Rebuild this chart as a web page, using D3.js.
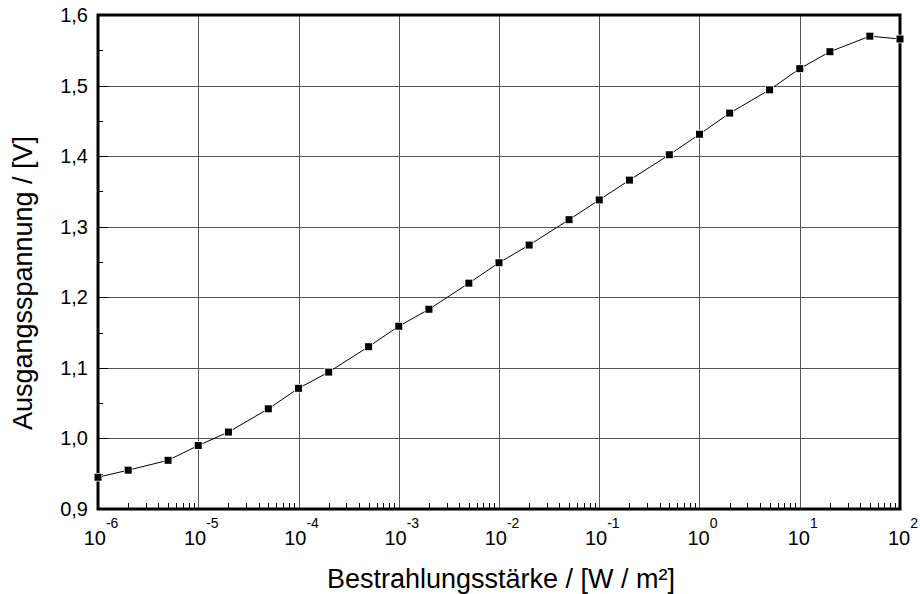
<!DOCTYPE html>
<html><head><meta charset="utf-8">
<script src="https://cdn.jsdelivr.net/npm/d3@7"></script>
<style>body{margin:0;background:#fff}</style>
</head><body>
<svg id="c" width="920" height="594"></svg>
<script>
const irradiance = [1e-6,2e-6,5e-6,1e-5,2e-5,5e-5,1e-4,2e-4,5e-4,1e-3,2e-3,5e-3,1e-2,2e-2,5e-2,0.1,0.2,0.5,1,2,5,10,20,50,100];
const voltage = [0.945,0.955,0.969,0.990,1.009,1.042,1.071,1.094,1.130,1.159,1.183,1.220,1.249,1.274,1.310,1.338,1.366,1.402,1.431,1.461,1.494,1.524,1.548,1.570,1.566];
const xExponents = [-6,-5,-4,-3,-2,-1,0,1,2];
const yTicks = [0.9,1.0,1.1,1.2,1.3,1.4,1.5,1.6];
const xTitle = "Bestrahlungsstärke / [W / m²]";
const yTitle = "Ausgangsspannung / [V]";

const svg = d3.select("#c");
const L=98, R=900, T=15, B=509;
const x = d3.scaleLog().domain([1e-6,1e2]).range([L,R]);
const y = d3.scaleLinear().domain([0.9,1.6]).range([B,T]);
const font = "Liberation Sans, Arial, sans-serif";

const g = svg.append("g");
// grid
g.selectAll(".vg").data(xExponents.slice(1,-1)).join("line")
  .attr("x1",d=>Math.round(x(Math.pow(10,d)))+0.5).attr("x2",d=>Math.round(x(Math.pow(10,d)))+0.5)
  .attr("y1",T).attr("y2",B).attr("stroke","#555").attr("stroke-width",1);
g.selectAll(".hg").data(yTicks.slice(1,-1)).join("line")
  .attr("y1",d=>Math.round(y(d))+0.5).attr("y2",d=>Math.round(y(d))+0.5)
  .attr("x1",L).attr("x2",R).attr("stroke","#555").attr("stroke-width",1);

// minor ticks x
const minors=[];
xExponents.slice(0,-1).forEach(e=>{for(let k=2;k<10;k++)minors.push(k*Math.pow(10,e));});
g.selectAll(".mx").data(minors).join("line")
  .attr("x1",d=>Math.round(x(d))+0.5).attr("x2",d=>Math.round(x(d))+0.5)
  .attr("y1",B).attr("y2",B-6).attr("stroke","#000").attr("stroke-width",1);
// major ticks y (inward)
g.selectAll(".my").data(yTicks).join("line")
  .attr("y1",d=>Math.round(y(d))+0.5).attr("y2",d=>Math.round(y(d))+0.5)
  .attr("x1",L).attr("x2",L+10).attr("stroke","#000").attr("stroke-width",1);
// minor y
g.selectAll(".mny").data(d3.range(0.95,1.6,0.1)).join("line")
  .attr("y1",d=>Math.round(y(d))+0.5).attr("y2",d=>Math.round(y(d))+0.5)
  .attr("x1",L).attr("x2",L+5).attr("stroke","#000").attr("stroke-width",1);

// frame
g.append("rect").attr("x",L).attr("y",T).attr("width",R-L).attr("height",B-T)
  .attr("fill","none").attr("stroke","#000").attr("stroke-width",3);

// line + markers
g.append("path").datum(irradiance.map((v,i)=>[v,voltage[i]]))
  .attr("d",d3.line().x(d=>x(d[0])).y(d=>y(d[1])))
  .attr("fill","none").attr("stroke","#000").attr("stroke-width",1);
g.selectAll(".pt").data(irradiance.map((v,i)=>[v,voltage[i]])).join("rect")
  .attr("x",d=>x(d[0])-3.5).attr("y",d=>y(d[1])-3.5).attr("width",7).attr("height",7)
  .attr("fill","#000").attr("stroke","#fff").attr("stroke-width",1.5).attr("paint-order","stroke");

// y labels
g.selectAll(".yl").data(yTicks).join("text")
  .attr("x",L-10).attr("y",d=>y(d)+7).attr("text-anchor","end")
  .attr("font-family",font).attr("font-size",20)
  .text(d=>d3.format(".1f")(d).replace(".",","));

// x labels
const xl = g.selectAll(".xl").data(xExponents).join("text")
  .attr("x",d=>x(Math.pow(10,d))+3).attr("y",545).attr("text-anchor","middle")
  .attr("font-family",font).attr("font-size",20);
xl.append("tspan").text("10");
xl.append("tspan").attr("dy",-17).attr("font-size",14).text(d=>d);

// titles
svg.append("text").attr("x",501).attr("y",588).attr("text-anchor","middle")
  .attr("font-family",font).attr("font-size",27).text(xTitle);
svg.append("text").attr("transform","translate(32,283) rotate(-90)").attr("text-anchor","middle")
  .attr("font-family",font).attr("font-size",27).text(yTitle);
</script>
</body></html>
